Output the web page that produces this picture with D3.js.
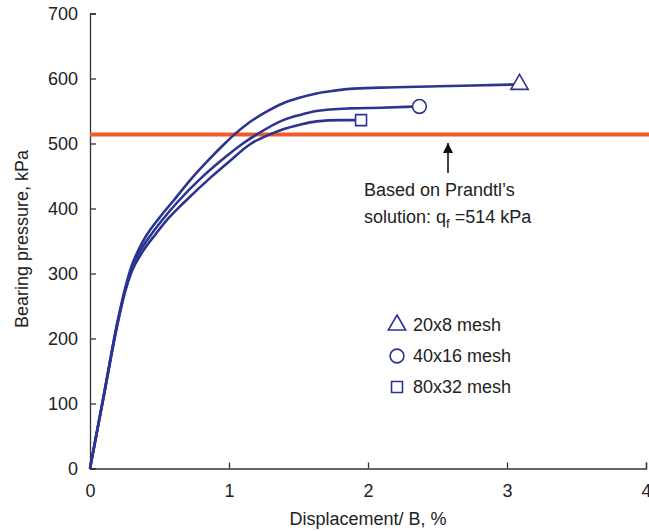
<!DOCTYPE html>
<html>
<head>
<meta charset="utf-8">
<script src="https://cdn.jsdelivr.net/npm/d3@7"></script>
<style>
  html, body { margin: 0; padding: 0; background: #fff; }
  svg { display: block; font-family: "Liberation Sans", Arial, Helvetica, sans-serif; }
</style>
</head>
<body>
<svg id="chart" width="649" height="531"></svg>
<script>
// Load–displacement curves for three mesh densities
const mesh20x8 = [
  [0, 0], [0.1, 114], [0.2, 228], [0.25, 275], [0.3, 312], [0.35, 337],
  [0.41, 360], [0.5, 386], [0.6, 412], [0.73, 446], [0.85, 474], [0.97, 500],
  [1.04, 514], [1.15, 533], [1.27, 549], [1.39, 562], [1.5, 570], [1.63, 577],
  [1.75, 581], [1.87, 584], [2.09, 586], [2.5, 588], [3.09, 591]
];
const mesh40x16 = [
  [0, 0], [0.1, 113], [0.2, 226], [0.25, 272], [0.3, 307], [0.36, 334],
  [0.44, 360], [0.53, 385], [0.63, 410], [0.81, 449], [0.95, 475], [1.1, 500],
  [1.2, 514], [1.39, 536], [1.51, 544], [1.63, 550], [1.87, 554], [2.09, 555],
  [2.37, 557]
];
const mesh80x32 = [
  [0, 0], [0.1, 112], [0.2, 224], [0.25, 270], [0.3, 303], [0.38, 334],
  [0.47, 360], [0.56, 384], [0.68, 410], [0.875, 449], [1.0, 472], [1.16, 500],
  [1.295, 514], [1.39, 522], [1.51, 529], [1.63, 534], [1.8, 536], [1.95, 536]
];
const seriesNames = ["20x8 mesh", "40x16 mesh", "80x32 mesh"];
const seriesSymbols = ["triangle", "circle", "square"];
const prandtlQf = 514;
const xTicks = [0, 1, 2, 3, 4];
const yTicks = [0, 100, 200, 300, 400, 500, 600, 700];

const blue = "#2b3491";
const red = "#f15a29";
const axisColor = "#333";

const svg = d3.select("#chart");
const x = d3.scaleLinear().domain([0, 4]).range([90, 646]);
const y = d3.scaleLinear().domain([0, 700]).range([468.5, 13.5]);

// Axes with inward ticks
const xAxis = svg.append("g").attr("transform", `translate(0,${y(0)})`)
  .call(d3.axisBottom(x).tickValues(xTicks).tickSize(-6).tickPadding(12).tickFormat(d3.format("d")));
const yAxis = svg.append("g").attr("transform", `translate(${x(0)},0)`)
  .call(d3.axisLeft(y).tickValues(yTicks).tickSize(-6).tickPadding(12).tickFormat(d3.format("d")));
[xAxis, yAxis].forEach(g => {
  g.select(".domain").attr("stroke", axisColor).attr("stroke-width", 1.3);
  g.selectAll(".tick line").attr("stroke", axisColor).attr("stroke-width", 1.3);
  g.selectAll(".tick text").attr("fill", "#222").style("font-size", "18px")
    .style("font-family", "'Liberation Sans', Arial, sans-serif");
});
xAxis.selectAll(".tick text").attr("dy", "0.9em");

// Axis titles
svg.append("text")
  .attr("x", 368).attr("y", 525)
  .attr("text-anchor", "middle").attr("fill", "#222").style("font-size", "18px")
  .text("Displacement/ B, %");
svg.append("text")
  .attr("transform", `translate(28,239) rotate(-90)`)
  .attr("text-anchor", "middle").attr("fill", "#222").style("font-size", "18px")
  .text("Bearing pressure, kPa");

// Prandtl bearing capacity line
svg.append("line")
  .attr("x1", x(0)).attr("x2", 649)
  .attr("y1", y(prandtlQf)).attr("y2", y(prandtlQf))
  .attr("stroke", red).attr("stroke-width", 4);

// Curves
const line = d3.line().x(d => x(d[0])).y(d => y(d[1])).curve(d3.curveMonotoneX);
const allSeries = [mesh20x8, mesh40x16, mesh80x32];
allSeries.forEach(s => {
  svg.append("path").datum(s)
    .attr("d", line)
    .attr("fill", "none").attr("stroke", blue).attr("stroke-width", 2.6)
    .attr("stroke-linejoin", "round");
});

// End markers
const symbolType = { triangle: d3.symbolTriangle, circle: d3.symbolCircle, square: d3.symbolSquare };
const symbolSize = { triangle: 130, circle: 150, square: 120 };
function marker(g, kind, cx, cy) {
  g.append("path")
    .attr("d", d3.symbol().type(symbolType[kind]).size(symbolSize[kind])())
    .attr("transform", `translate(${cx},${cy})`)
    .attr("fill", "#fff").attr("stroke", blue).attr("stroke-width", 1.6);
}
allSeries.forEach((s, i) => {
  const last = s[s.length - 1];
  marker(svg, seriesSymbols[i], x(last[0]), y(last[1]));
});

// Legend
const legend = svg.append("g");
seriesNames.forEach((name, i) => {
  const ly = 325 + i * 31;
  marker(legend, seriesSymbols[i], 397, ly);
  legend.append("text")
    .attr("x", 413).attr("y", ly).attr("dy", "0.35em")
    .attr("fill", "#222").style("font-size", "18px")
    .text(name);
});

// Annotation with arrow pointing at the Prandtl line
svg.append("defs").append("marker")
  .attr("id", "arrowhead").attr("viewBox", "0 0 10 10")
  .attr("refX", 10).attr("refY", 5)
  .attr("markerWidth", 10).attr("markerHeight", 10)
  .attr("markerUnits", "userSpaceOnUse").attr("orient", "auto")
  .append("path").attr("d", "M0,0 L10,5 L0,10 Z").attr("fill", "#111");
svg.append("line")
  .attr("x1", 448).attr("x2", 448).attr("y1", 173).attr("y2", 143)
  .attr("stroke", "#111").attr("stroke-width", 1.6)
  .attr("marker-end", "url(#arrowhead)");

const note = svg.append("g").attr("fill", "#222").style("font-size", "18px");
note.append("text").attr("x", 364).attr("y", 190).attr("dy", "0.35em").text("Based on Prandtl\u2019s");
const t2 = note.append("text").attr("x", 364).attr("y", 217).attr("dy", "0.35em");
t2.append("tspan").text("solution: q");
t2.append("tspan").attr("dy", 5).style("font-size", "13px").text("f");
t2.append("tspan").attr("dy", -5).text(" =514 kPa");
</script>
</body>
</html>
